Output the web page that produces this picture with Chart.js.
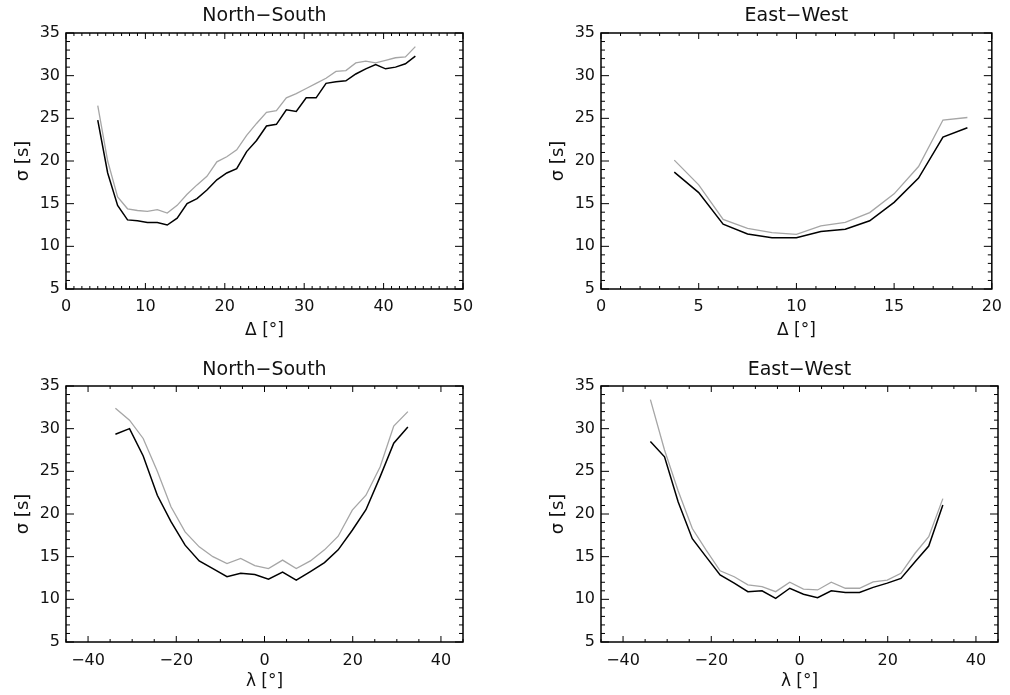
<!DOCTYPE html>
<html>
<head>
<meta charset="utf-8">
<script src="https://cdn.jsdelivr.net/npm/chart.js@4.4.1/dist/chart.umd.min.js"></script>
<style>
  body { margin: 0; background: #fff; }
  canvas { position: absolute; }
</style>
</head>
<body>
<canvas id="nsDeltaChart" width="505" height="340" style="left:0;top:0"></canvas>
<canvas id="ewDeltaChart" width="505" height="340" style="left:505px;top:0"></canvas>
<canvas id="nsLatChart" width="505" height="355" style="left:0;top:340px"></canvas>
<canvas id="ewLatChart" width="505" height="355" style="left:505px;top:340px"></canvas>
<script>
// distance bins (deg) and sigma values
const nsDelta = [4, 5.25, 6.5, 7.75, 9, 10.25, 11.5, 12.75, 14, 15.25, 16.5, 17.75, 19, 20.25, 21.5,
  22.75, 24, 25.25, 26.5, 27.75, 29, 30.25, 31.5, 32.75, 34, 35.25, 36.5, 37.75, 39, 40.25, 41.5, 42.75, 44];
const nsDeltaBlack = [24.8, 18.6, 14.8, 13.1, 13.0, 12.8, 12.8, 12.5, 13.3, 15.0, 15.6, 16.6, 17.8, 18.6, 19.1,
  21.1, 22.4, 24.1, 24.3, 26.0, 25.8, 27.4, 27.4, 29.1, 29.3, 29.4, 30.2, 30.8, 31.3, 30.8, 31.0, 31.4, 32.3];
const nsDeltaGray = [26.5, 20.0, 15.8, 14.4, 14.2, 14.1, 14.3, 13.9, 14.8, 16.1, 17.2, 18.2, 19.9, 20.5, 21.3,
  23.0, 24.4, 25.7, 25.9, 27.4, 27.9, 28.5, 29.1, 29.7, 30.5, 30.6, 31.5, 31.7, 31.5, 31.8, 32.1, 32.2, 33.4];

const ewDelta = [3.75, 5, 6.25, 7.5, 8.75, 10, 11.25, 12.5, 13.75, 15, 16.25, 17.5, 18.75];
const ewDeltaBlack = [18.7, 16.3, 12.6, 11.45, 11.0, 11.0, 11.75, 12.0, 13.0, 15.15, 18.0, 22.8, 23.9];
const ewDeltaGray = [20.1, 17.2, 13.15, 12.1, 11.6, 11.4, 12.4, 12.8, 13.95, 16.15, 19.35, 24.8, 25.1];

// latitude bins (deg)
const latitudes = [-33.8, -30.6, -27.5, -24.3, -21.2, -18.0, -14.8, -11.7, -8.5, -5.4, -2.2,
  0.9, 4.1, 7.2, 10.4, 13.6, 16.7, 19.9, 23.0, 26.2, 29.3, 32.5];
const nsLatBlack = [29.35, 30.0, 26.8, 22.2, 19.1, 16.35, 14.5, 13.6, 12.65, 13.05, 12.9,
  12.35, 13.2, 12.25, 13.25, 14.3, 15.8, 18.1, 20.5, 24.35, 28.3, 30.2];
const nsLatGray = [32.4, 31.0, 28.85, 25.0, 20.85, 17.9, 16.15, 15.0, 14.2, 14.8, 13.95,
  13.6, 14.6, 13.6, 14.5, 15.8, 17.4, 20.45, 22.2, 25.5, 30.3, 32.0];
const ewLatBlack = [28.5, 26.7, 21.4, 17.1, 15.0, 12.85, 11.9, 10.9, 11.0, 10.1, 11.3,
  10.6, 10.2, 11.0, 10.8, 10.8, 11.4, 11.9, 12.45, 14.4, 16.25, 21.05];
const ewLatGray = [33.4, 27.5, 22.7, 18.3, 15.8, 13.35, 12.65, 11.7, 11.5, 10.9, 12.0,
  11.2, 11.1, 12.0, 11.3, 11.3, 12.05, 12.25, 13.05, 15.4, 17.35, 21.8];

const FONT = 'DejaVu Sans';
const GRAY = '#a6a6a6';

// IDL style box with inward major/minor ticks on all four sides
const framePlugin = {
  id: 'frame',
  afterDraw(chart, args, opts) {
    const {ctx, chartArea: a, scales: {x, y}} = chart;
    const isMajor = (v, step) => Math.abs(v / step - Math.round(v / step)) < 1e-6;
    ctx.save();
    ctx.strokeStyle = '#000';
    ctx.lineWidth = 1.5;
    ctx.strokeRect(a.left, a.top, a.right - a.left, a.bottom - a.top);
    ctx.lineWidth = 1;
    ctx.beginPath();
    for (let i = 0; x.min + i * opts.xMinor <= x.max + 1e-9; i++) {
      const v = x.min + i * opts.xMinor;
      const px = x.getPixelForValue(v);
      const len = isMajor(v, opts.xMajor) ? 6 : 3;
      ctx.moveTo(px, a.bottom); ctx.lineTo(px, a.bottom - len);
      ctx.moveTo(px, a.top); ctx.lineTo(px, a.top + len);
    }
    for (let i = 0; y.min + i * 1 <= y.max + 1e-9; i++) {
      const v = y.min + i;
      const py = y.getPixelForValue(v);
      const len = isMajor(v, 5) ? 8 : 4;
      ctx.moveTo(a.left, py); ctx.lineTo(a.left + len, py);
      ctx.moveTo(a.right, py); ctx.lineTo(a.right - len, py);
    }
    ctx.stroke();
    ctx.restore();
  }
};

function makePanel(id, cfg) {
  const ctx = document.getElementById(id);
  return new Chart(ctx, {
    type: 'line',
    data: {
      datasets: [
        {
          data: cfg.xs.map((v, i) => ({x: v, y: cfg.black[i]})),
          borderColor: '#000',
          borderWidth: 1.5,
        },
        {
          data: cfg.xs.map((v, i) => ({x: v, y: cfg.gray[i]})),
          borderColor: GRAY,
          borderWidth: 1.3,
        }
      ]
    },
    options: {
      responsive: false,
      animation: false,
      devicePixelRatio: 1,
      elements: {point: {radius: 0}, line: {tension: 0}},
      layout: {padding: {left: 0, right: cfg.padRight, top: 0, bottom: 0}},
      plugins: {
        legend: {display: false},
        tooltip: {enabled: false},
        title: {
          display: true,
          text: cfg.title,
          color: '#111',
          fullSize: false,
          font: {family: FONT, size: 19, weight: 'normal', lineHeight: 1},
          padding: cfg.titlePad,
        },
        frame: {xMajor: cfg.xMajor, xMinor: cfg.xMinor},
      },
      scales: {
        x: {
          type: 'linear',
          min: cfg.xMin,
          max: cfg.xMax,
          grid: {display: false, drawTicks: false},
          border: {display: false},
          ticks: {
            stepSize: cfg.xMajor,
            includeBounds: false,
            autoSkip: false,
            maxRotation: 0,
            padding: cfg.xTickPad,
            color: '#111',
            font: {family: FONT, size: 16},
            callback: v => v < 0 ? '\u2212' + Math.abs(v) : String(v),
          },
          title: {
            display: true,
            text: cfg.xTitle,
            color: '#111',
            font: {family: FONT, size: 17, lineHeight: 1},
            padding: {top: 0, bottom: cfg.xTitlePad},
          },
          afterFit: s => { s.height = cfg.xAxisH; },
        },
        y: {
          type: 'linear',
          min: 5,
          max: 35,
          grid: {display: false, drawTicks: false},
          border: {display: false},
          ticks: {
            stepSize: 5,
            padding: 6,
            color: '#111',
            font: {family: FONT, size: 16},
          },
          title: {
            display: true,
            text: '\u03c3 [s]',
            color: '#111',
            font: {family: FONT, size: 18, lineHeight: 1},
            padding: {top: cfg.yTitlePad, bottom: 0},
          },
          afterFit: s => { s.width = cfg.yAxisW; },
        }
      }
    },
    plugins: [framePlugin]
  });
}

makePanel('nsDeltaChart', {
  title: 'North\u2212South', xTitle: '\u0394 [\u00b0]',
  xs: nsDelta, black: nsDeltaBlack, gray: nsDeltaGray,
  xMin: 0, xMax: 50, xMajor: 10, xMinor: 1,
  padRight: 42, yAxisW: 66, yTitlePad: 14, xAxisH: 51, xTickPad: 8, xTitlePad: 1,
  titlePad: {top: 7, bottom: 7},
});
makePanel('ewDeltaChart', {
  title: 'East\u2212West', xTitle: '\u0394 [\u00b0]',
  xs: ewDelta, black: ewDeltaBlack, gray: ewDeltaGray,
  xMin: 0, xMax: 20, xMajor: 5, xMinor: 1,
  padRight: 12, yAxisW: 96, yTitlePad: 44, xAxisH: 51, xTickPad: 8, xTitlePad: 1,
  titlePad: {top: 7, bottom: 7},
});
makePanel('nsLatChart', {
  title: 'North\u2212South', xTitle: '\u03bb [\u00b0]',
  xs: latitudes, black: nsLatBlack, gray: nsLatGray,
  xMin: -45, xMax: 45, xMajor: 20, xMinor: 5,
  padRight: 42, yAxisW: 66, yTitlePad: 14, xAxisH: 53, xTickPad: 9, xTitlePad: 5,
  titlePad: {top: 21, bottom: 6},
});
makePanel('ewLatChart', {
  title: 'East\u2212West', xTitle: '\u03bb [\u00b0]',
  xs: latitudes, black: ewLatBlack, gray: ewLatGray,
  xMin: -45, xMax: 45, xMajor: 20, xMinor: 5,
  padRight: 12, yAxisW: 96, yTitlePad: 44, xAxisH: 53, xTickPad: 9, xTitlePad: 5,
  titlePad: {top: 21, bottom: 6},
});
</script>
</body>
</html>
